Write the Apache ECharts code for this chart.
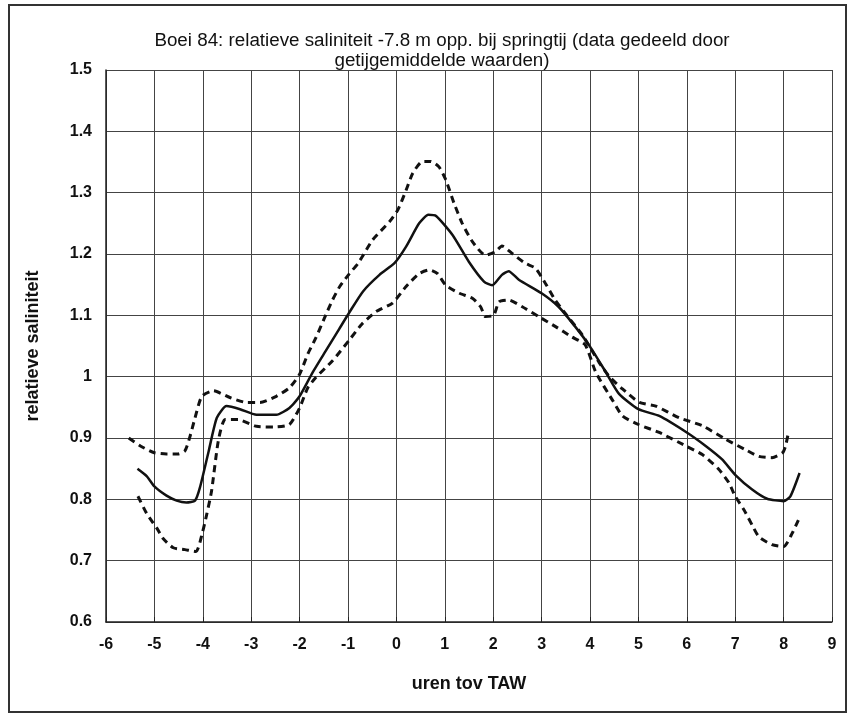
<!DOCTYPE html>
<html>
<head>
<meta charset="utf-8">
<script src="https://cdn.jsdelivr.net/npm/echarts@6/dist/echarts.min.js"></script>
<style>
  html, body { margin: 0; padding: 0; background: #fff; }
  #chart { width: 852px; height: 718px; }
</style>
</head>
<body>
<div id="chart"></div>
<script>
// gemiddelde (doorgetrokken lijn)
const meanX = [-5.35, -5.16, -5.0, -4.75, -4.54, -4.34, -4.16, -4.06, -3.88, -3.71, -3.51, -3.23, -2.89, -2.48, -2.21, -2.0, -1.73, -1.46, -1.18, -0.97, -0.69, -0.35, -0.04, 0.2, 0.47, 0.66, 0.82, 1.16, 1.5, 1.81, 1.98, 2.18, 2.32, 2.53, 3.0, 3.35, 3.69, 4.0, 4.33, 4.6, 5.0, 5.43, 6.0, 6.39, 6.73, 7.0, 7.35, 7.66, 8.0, 8.14, 8.33]
const meanY = [0.85, 0.838, 0.821, 0.806, 0.798, 0.795, 0.798, 0.819, 0.878, 0.933, 0.952, 0.947, 0.938, 0.938, 0.949, 0.968, 1.007, 1.042, 1.078, 1.105, 1.139, 1.166, 1.185, 1.212, 1.25, 1.264, 1.262, 1.231, 1.187, 1.155, 1.149, 1.166, 1.172, 1.158, 1.136, 1.114, 1.082, 1.049, 1.007, 0.972, 0.947, 0.936, 0.909, 0.887, 0.865, 0.84, 0.816, 0.801, 0.797, 0.805, 0.843]

// bovengrens (stippellijn)
const upperX = [-5.53, -5.29, -5.0, -4.75, -4.51, -4.37, -4.27, -4.16, -4.02, -3.78, -3.44, -3.1, -2.82, -2.48, -2.21, -2.0, -1.83, -1.66, -1.49, -1.32, -1.17, -0.97, -0.79, -0.49, -0.14, 0.03, 0.2, 0.34, 0.54, 0.71, 0.88, 1.02, 1.19, 1.36, 1.57, 1.84, 2.05, 2.18, 2.39, 2.66, 2.87, 3.08, 3.28, 3.49, 3.85, 4.19, 4.4, 4.67, 5.02, 5.36, 5.84, 6.32, 6.8, 7.21, 7.49, 7.76, 7.98, 8.04, 8.1]
const upperY = [0.9, 0.887, 0.876, 0.874, 0.874, 0.879, 0.901, 0.933, 0.968, 0.977, 0.966, 0.958, 0.958, 0.968, 0.982, 1.004, 1.037, 1.064, 1.095, 1.125, 1.147, 1.168, 1.185, 1.223, 1.253, 1.272, 1.304, 1.332, 1.351, 1.351, 1.342, 1.321, 1.283, 1.25, 1.22, 1.198, 1.204, 1.213, 1.201, 1.185, 1.177, 1.152, 1.125, 1.103, 1.067, 1.023, 1.0, 0.98, 0.958, 0.952, 0.933, 0.92, 0.898, 0.881, 0.87, 0.868, 0.876, 0.887, 0.909]

// ondergrens (stippellijn)
const lowerX = [-5.34, -5.16, -4.95, -4.82, -4.61, -4.37, -4.14, -4.01, -3.92, -3.82, -3.68, -3.54, -3.27, -2.89, -2.52, -2.21, -2.0, -1.83, -1.66, -1.32, -0.98, -0.71, -0.42, -0.08, 0.2, 0.47, 0.68, 0.85, 1.02, 1.3, 1.57, 1.74, 1.84, 2.01, 2.12, 2.32, 2.6, 2.94, 3.28, 3.62, 3.9, 4.12, 4.47, 4.67, 5.0, 5.43, 5.98, 6.32, 6.66, 6.87, 7.0, 7.18, 7.35, 7.49, 7.76, 8.0, 8.18, 8.31]
const lowerY = [0.805, 0.777, 0.753, 0.736, 0.721, 0.718, 0.715, 0.745, 0.775, 0.813, 0.895, 0.93, 0.93, 0.919, 0.918, 0.922, 0.949, 0.982, 0.999, 1.026, 1.059, 1.086, 1.106, 1.12, 1.147, 1.168, 1.174, 1.168, 1.149, 1.136, 1.128, 1.114, 1.098, 1.1, 1.122, 1.125, 1.114, 1.098, 1.082, 1.065, 1.052, 1.007, 0.961, 0.936, 0.922, 0.909, 0.887, 0.873, 0.849, 0.827, 0.805, 0.783, 0.758, 0.739, 0.726, 0.723, 0.745, 0.767]

const zip = (xs, ys) => xs.map((x, i) => [x, ys[i]])

const font = 'Liberation Sans, Arial, sans-serif'
const chart = echarts.init(document.getElementById('chart'))

chart.setOption({
  backgroundColor: '#fff',
  animation: false,
  title: {
    text: 'Boei 84: relatieve saliniteit -7.8 m opp. bij springtij (data gedeeld door\ngetijgemiddelde waarden)',
    left: 437,
    top: 26,
    textAlign: 'center',
    textStyle: { fontFamily: font, fontSize: 18.8, fontWeight: 'normal', color: '#111', lineHeight: 20 }
  },
  graphic: [{
    type: 'rect',
    shape: { x: 9, y: 5, width: 837, height: 707 },
    style: { fill: 'none', stroke: '#333', lineWidth: 2 },
    silent: true
  }],
  grid: { left: 106, top: 70, right: 20, bottom: 96 },
  xAxis: {
    type: 'value',
    min: -6,
    max: 9,
    interval: 1,
    name: 'uren tov TAW',
    nameLocation: 'middle',
    nameGap: 53,
    nameTextStyle: { fontFamily: font, fontSize: 18, fontWeight: 'bold', color: '#111' },
    axisLine: { onZero: false, lineStyle: { color: '#222', width: 1.5 } },
    axisTick: { show: true, inside: true, length: 5, lineStyle: { color: '#222' } },
    axisLabel: { fontFamily: font, fontSize: 16, fontWeight: 'bold', color: '#111', margin: 15 },
    splitLine: { show: true, lineStyle: { color: '#444', width: 1 } }
  },
  yAxis: {
    type: 'value',
    min: 0.6,
    max: 1.5,
    interval: 0.1,
    name: 'relatieve saliniteit',
    nameLocation: 'middle',
    nameGap: 64,
    nameRotate: 90,
    nameTextStyle: { fontFamily: font, fontSize: 18, fontWeight: 'bold', color: '#111' },
    axisLine: { show: true, onZero: false, lineStyle: { color: '#222', width: 1.5 } },
    axisTick: { show: false },
    axisLabel: {
      fontFamily: font, fontSize: 16, fontWeight: 'bold', color: '#111', margin: 14,
      formatter: v => String(+v.toFixed(1))
    },
    splitLine: { show: true, lineStyle: { color: '#444', width: 1 } }
  },
  series: [
    {
      name: 'boven',
      type: 'line',
      data: zip(upperX, upperY),
      showSymbol: false,
      smooth: 0.2,
      lineStyle: { color: '#111', width: 3, type: [7, 5] }
    },
    {
      name: 'onder',
      type: 'line',
      data: zip(lowerX, lowerY),
      showSymbol: false,
      smooth: 0.2,
      lineStyle: { color: '#111', width: 3, type: [7, 5] }
    },
    {
      name: 'gemiddeld',
      type: 'line',
      data: zip(meanX, meanY),
      showSymbol: false,
      smooth: 0.2,
      lineStyle: { color: '#111', width: 2.5 }
    }
  ]
})
</script>
</body>
</html>
